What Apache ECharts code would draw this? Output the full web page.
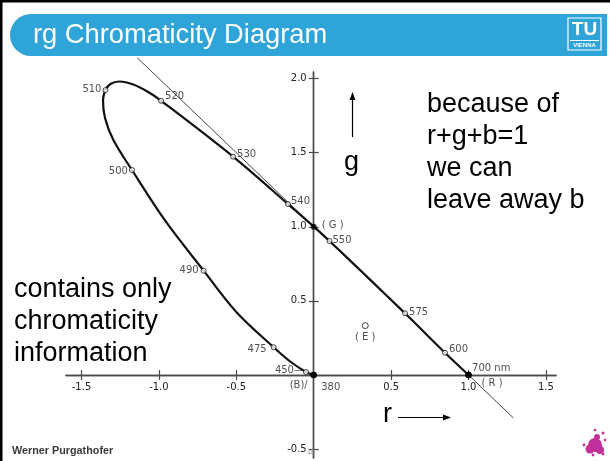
<!DOCTYPE html>
<html>
<head>
<meta charset="utf-8">
<script src="https://cdn.jsdelivr.net/npm/echarts@6/dist/echarts.min.js"></script>
<style>
  html, body { margin: 0; padding: 0; background: #fff; }
  #chart { width: 610px; height: 461px; }
</style>
</head>
<body>
<div id="chart"></div>
<script>
// Spectral locus in (r, g), traced from 380 nm through blue and green to 700 nm
const locusR = [0, -0.050, -0.152, -0.259, -0.500, -0.711, -0.958, -1.174, -1.294, -1.348, -1.361, -1.345, -1.313, -1.255, -1.165, -1.074, -0.986, -0.521, -0.166, 0.102, 0.590, 0.848, 1.0];
const locusG = [0, 0.020, 0.091, 0.187, 0.425, 0.704, 1.039, 1.383, 1.585, 1.734, 1.855, 1.922, 1.963, 1.980, 1.960, 1.912, 1.850, 1.473, 1.153, 0.904, 0.416, 0.150, 0.0];

// Marked wavelengths (nm) on the locus
const markedNm = [380, 450, 475, 490, 500, 510, 520, 530, 540, 550, 575, 600, 700];
const markedR = [0, -0.050, -0.259, -0.711, -1.174, -1.345, -0.986, -0.521, -0.166, 0.102, 0.590, 0.848, 1.0];
const markedG = [0, 0.020, 0.187, 0.704, 1.383, 1.922, 1.850, 1.473, 1.153, 0.904, 0.416, 0.150, 0.0];

// Primaries B, G, R and the equal-energy point E
const primaryNames = ['(B)', '(G)', '(R)'];
const primaryR = [0, 0, 1];
const primaryG = [0, 1, 0];
const whiteNames = ['(E)'];
const whiteR = [0.333];
const whiteG = [0.333];

// The straight line r + g = 1
const unitLineR = [-1.14, 1.29];
const unitLineG = [2.14, -0.29];

// Axis ticks
const xTicks = [-1.5, -1.0, -0.5, 0.5, 1.0, 1.5];
const yTicks = [-0.5, 0.5, 1.0, 1.5, 2.0];

const X_MIN = -1.6, X_MAX = 1.565;
const Y_MIN = -0.56, Y_MAX = 2.044;
const GRID = { left: 66, right: 54, top: 72, bottom: 3 };
const CANVAS_H = 461;

const ink = '#111';
const axisInk = '#4a4a4a';
const plotFont = { fontFamily: 'DejaVu Sans', fontSize: 10, color: '#222' };
const slideFont = 'Liberation Sans, Arial, sans-serif';
const bodyFont = '27px ' + slideFont;
const splash = '#c2309c';

// where each wavelength label sits next to its marker
const nmLabelPlace = {
  380: { position: 'right', offset: [1, 12], text: '380' },
  450: { position: 'left', offset: [4, -2], text: '450\u2014' },
  475: { position: 'left', offset: [-1, 2] },
  490: { position: 'left', offset: [1, 0] },
  500: { position: 'left', offset: [2, 1] },
  510: { position: 'left', offset: [2, -1] },
  520: { position: 'right', offset: [-2, -4] },
  530: { position: 'right', offset: [-2, -2] },
  540: { position: 'right', offset: [-3, -3] },
  550: { position: 'right', offset: [-3, -1] },
  575: { position: 'right', offset: [-2, -1] },
  600: { position: 'right', offset: [-2, -3] },
  700: { position: 'right', offset: [-3, -7], text: '700 nm' }
};
const primaryLabelPlace = {
  '(B)': { position: 'left', offset: [0, 10], text: '(B)/' },
  '(G)': { position: 'right', offset: [2, -1], text: '( G )' },
  '(R)': { position: 'right', offset: [7, 8], text: '( R )' }
};

const wavelengthData = markedNm.map((nm, i) => {
  const p = nmLabelPlace[nm];
  const endPoint = nm === 380 || nm === 700;
  return {
    name: String(nm),
    value: [markedR[i], markedG[i]],
    symbolSize: endPoint ? 6 : 5,
    itemStyle: endPoint ? { color: '#000', borderColor: '#000' } : undefined,
    label: {
      position: p.position,
      offset: p.offset,
      formatter: p.text || String(nm)
    }
  };
});

const primaryData = primaryNames.map((n, i) => {
  const p = primaryLabelPlace[n];
  return {
    name: n,
    value: [primaryR[i], primaryG[i]],
    label: { position: p.position, offset: p.offset, formatter: p.text || n }
  };
});

const whiteData = whiteNames.map((n, i) => ({ name: n, value: [whiteR[i], whiteG[i]] }));

// axis line with ticks, crossing the other axis at zero
function lineAxis(pos, ticks, min, max) {
  return {
    type: 'value',
    position: pos,
    min: min,
    max: max,
    axisLine: { show: true, onZero: true, lineStyle: { color: axisInk, width: 1.4 } },
    axisTick: { show: true, customValues: ticks, length: 5, inside: false, lineStyle: { color: axisInk, width: 1.2 } },
    axisLabel: { show: false },
    splitLine: { show: false }
  };
}
// label-only axis, shifted onto the zero line once the scale is known
function labelAxis(pos, ticks, min, max) {
  return {
    type: 'value',
    position: pos,
    min: min,
    max: max,
    offset: 0,
    axisLine: { show: false, onZero: false },
    axisTick: { show: false },
    axisLabel: Object.assign({
      show: true,
      customValues: ticks,
      margin: 7,
      formatter: v => v.toFixed(1)
    }, plotFont),
    splitLine: { show: false }
  };
}

const chart = echarts.init(document.getElementById('chart'), null, { renderer: 'canvas' });

chart.setOption({
  backgroundColor: '#fff',
  animation: false,
  grid: Object.assign({ outerBoundsMode: 'none' }, GRID),
  xAxis: [
    lineAxis('bottom', xTicks, X_MIN, X_MAX),
    lineAxis('top', xTicks, X_MIN, X_MAX),
    labelAxis('bottom', xTicks, X_MIN, X_MAX)
  ],
  yAxis: [
    lineAxis('left', yTicks, Y_MIN, Y_MAX),
    lineAxis('right', yTicks, Y_MIN, Y_MAX),
    labelAxis('left', yTicks, Y_MIN, Y_MAX)
  ],
  series: [
    {
      type: 'line',
      name: 'r + g = 1',
      data: unitLineR.map((r, i) => [r, unitLineG[i]]),
      symbol: 'none',
      clip: false,
      silent: true,
      lineStyle: { color: '#444', width: 1 },
      z: 2
    },
    {
      type: 'line',
      name: 'spectral locus',
      data: locusR.map((r, i) => [r, locusG[i]]),
      smooth: 0.35,
      symbol: 'none',
      clip: false,
      silent: true,
      lineStyle: { color: ink, width: 2.2 },
      z: 3
    },
    {
      type: 'scatter',
      name: 'wavelength',
      data: wavelengthData,
      symbol: 'circle',
      symbolSize: 5,
      clip: false,
      itemStyle: { color: '#fff', borderColor: ink, borderWidth: 1 },
      label: Object.assign({ show: true, distance: 3 }, plotFont),
      z: 5
    },
    {
      type: 'scatter',
      name: 'primaries',
      data: primaryData,
      symbol: 'circle',
      symbolSize: 6,
      itemStyle: { color: '#000' },
      label: Object.assign({ show: true, distance: 3 }, plotFont),
      z: 6
    },
    {
      type: 'scatter',
      name: 'equal energy',
      data: whiteData,
      symbol: 'circle',
      symbolSize: 6,
      itemStyle: { color: '#fff', borderColor: ink, borderWidth: 1 },
      label: Object.assign({ show: true, position: 'bottom', distance: 3, formatter: '( E )' }, plotFont),
      z: 5
    }
  ],
  graphic: [
    // slide frame
    { type: 'rect', shape: { x: 0, y: 0, width: 610, height: 2.5 }, style: { fill: '#000' }, z: 100 },
    { type: 'rect', shape: { x: 0, y: 0, width: 2.5, height: 461 }, style: { fill: '#000' }, z: 100 },
    // header bar
    { type: 'rect', shape: { x: 10, y: 14, width: 597, height: 42, r: [21, 0, 0, 21] }, style: { fill: '#2ea4d8' }, z: 100 },
    { type: 'text', x: 33, y: 35, style: { text: 'rg Chromaticity Diagram', fill: '#fff', font: '27.3px ' + slideFont, verticalAlign: 'middle' }, z: 101 },
    // TU logo
    { type: 'rect', shape: { x: 568, y: 18, width: 33, height: 32 }, style: { fill: 'none', stroke: '#fff', lineWidth: 1.2 }, z: 101 },
    { type: 'text', x: 584.5, y: 30, style: { text: 'TU', fill: '#fff', font: 'bold 19px ' + slideFont, align: 'center', verticalAlign: 'middle' }, z: 101 },
    { type: 'line', shape: { x1: 570, y1: 40.5, x2: 599, y2: 40.5 }, style: { stroke: '#fff', lineWidth: 1 }, z: 101 },
    { type: 'text', x: 584.5, y: 45, style: { text: 'VIENNA', fill: '#fff', font: 'bold 6px ' + slideFont, align: 'center', verticalAlign: 'middle' }, z: 101 },
    // right column note
    { type: 'text', x: 427, y: 105, style: { text: 'because of', fill: '#000', font: bodyFont, verticalAlign: 'middle' }, z: 90 },
    { type: 'text', x: 427, y: 137, style: { text: 'r+g+b=1', fill: '#000', font: bodyFont, verticalAlign: 'middle' }, z: 90 },
    { type: 'text', x: 427, y: 169, style: { text: 'we can', fill: '#000', font: bodyFont, verticalAlign: 'middle' }, z: 90 },
    { type: 'text', x: 427, y: 201, style: { text: 'leave away b', fill: '#000', font: bodyFont, verticalAlign: 'middle' }, z: 90 },
    // g axis caption with arrow
    { type: 'text', x: 344, y: 163, style: { text: 'g', fill: '#000', font: bodyFont, verticalAlign: 'middle' }, z: 90 },
    { type: 'line', shape: { x1: 352.5, y1: 137, x2: 352.5, y2: 98 }, style: { stroke: '#000', lineWidth: 1.2 }, z: 90 },
    { type: 'polygon', shape: { points: [[352.5, 92], [349.5, 100], [355.5, 100]] }, style: { fill: '#000' }, z: 90 },
    // r axis caption with arrow
    { type: 'text', x: 383, y: 415, style: { text: 'r', fill: '#000', font: bodyFont, verticalAlign: 'middle' }, z: 90 },
    { type: 'line', shape: { x1: 398, y1: 417.5, x2: 444, y2: 417.5 }, style: { stroke: '#000', lineWidth: 1.2 }, z: 90 },
    { type: 'polygon', shape: { points: [[451, 417.5], [443, 414.5], [443, 420.5]] }, style: { fill: '#000' }, z: 90 },
    // left note
    { type: 'text', x: 14, y: 290, style: { text: 'contains only', fill: '#000', font: bodyFont, verticalAlign: 'middle' }, z: 90 },
    { type: 'text', x: 14, y: 322, style: { text: 'chromaticity', fill: '#000', font: bodyFont, verticalAlign: 'middle' }, z: 90 },
    { type: 'text', x: 14, y: 354, style: { text: 'information', fill: '#000', font: bodyFont, verticalAlign: 'middle' }, z: 90 },
    // footer
    { type: 'text', x: 12, y: 451, style: { text: 'Werner Purgathofer', fill: '#3a3a3a', font: 'bold 10.8px ' + slideFont, verticalAlign: 'middle' }, z: 90 },
    { type: 'text', x: 307, y: 452, style: { text: '18', fill: '#8a8a8a', font: '7px ' + slideFont, verticalAlign: 'middle' }, z: 90 },
    // paint splash
    { type: 'circle', shape: { cx: 595, cy: 445, r: 7 }, style: { fill: splash }, z: 90 },
    { type: 'circle', shape: { cx: 590, cy: 449, r: 4.5 }, style: { fill: splash }, z: 90 },
    { type: 'circle', shape: { cx: 600, cy: 450, r: 4 }, style: { fill: splash }, z: 90 },
    { type: 'circle', shape: { cx: 597, cy: 437, r: 3 }, style: { fill: splash }, z: 90 },
    { type: 'circle', shape: { cx: 595, cy: 430, r: 1.3 }, style: { fill: splash }, z: 90 },
    { type: 'circle', shape: { cx: 603, cy: 433, r: 1.5 }, style: { fill: splash }, z: 90 },
    { type: 'circle', shape: { cx: 605, cy: 440, r: 1.3 }, style: { fill: splash }, z: 90 },
    { type: 'circle', shape: { cx: 584, cy: 445, r: 1.4 }, style: { fill: splash }, z: 90 },
    { type: 'circle', shape: { cx: 593, cy: 455, r: 1.4 }, style: { fill: splash }, z: 90 },
    { type: 'circle', shape: { cx: 603, cy: 454, r: 1.4 }, style: { fill: splash }, z: 90 }
  ]
});

// move the label axes onto the zero lines
const origin = chart.convertToPixel({ xAxisIndex: 0, yAxisIndex: 0 }, [0, 0]);
chart.setOption({
  xAxis: [{}, {}, { offset: -((CANVAS_H - GRID.bottom) - origin[1]) }],
  yAxis: [{}, {}, { offset: -(origin[0] - GRID.left) }]
});
</script>
</body>
</html>
